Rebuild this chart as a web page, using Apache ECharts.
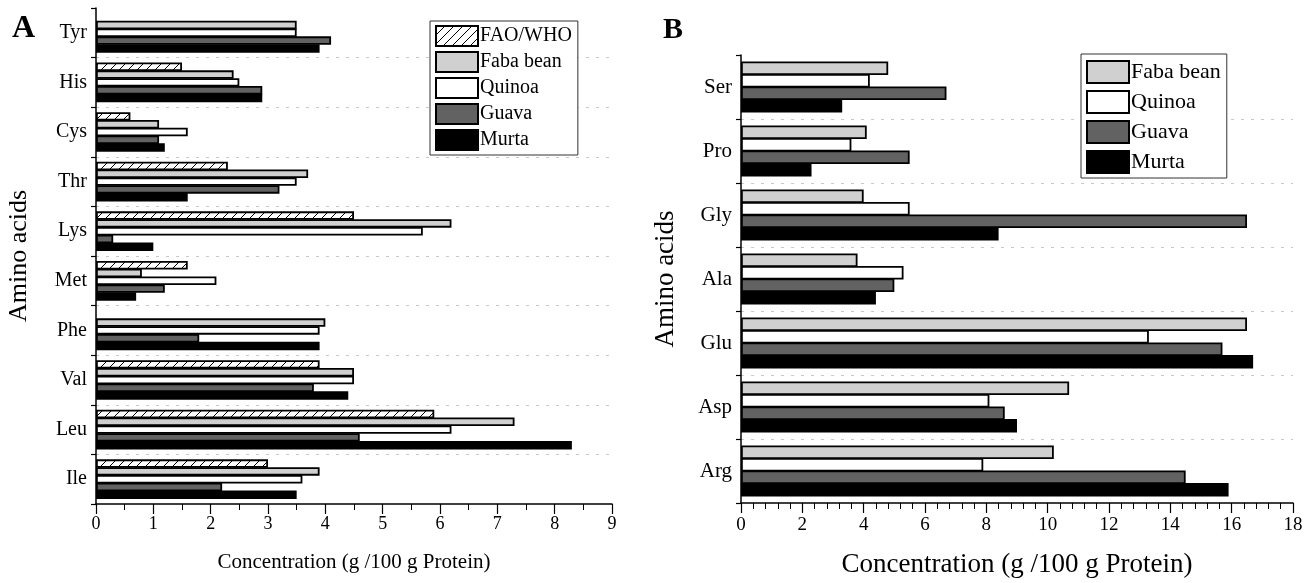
<!DOCTYPE html>
<html>
<head>
<meta charset="utf-8">
<script src="https://cdn.jsdelivr.net/npm/echarts@6/dist/echarts.min.js"></script>
<style>
  html, body { margin: 0; padding: 0; background: #fff; }
  #main { width: 1315px; height: 583px; }
</style>
</head>
<body>
<div id="main"></div>
<script>
// panel A: essential amino acids
const catsA = ['Tyr', 'His', 'Cys', 'Thr', 'Lys', 'Met', 'Phe', 'Val', 'Leu', 'Ile'];
const faoA = [null, 1.5, 0.6, 2.3, 4.5, 1.6, null, 3.9, 5.9, 3.0];
const fabaA = [3.5, 2.4, 1.1, 3.7, 6.2, 0.8, 4.0, 4.5, 7.3, 3.9];
const quinoaA = [3.5, 2.5, 1.6, 3.5, 5.7, 2.1, 3.9, 4.5, 6.2, 3.6];
const guavaA = [4.1, 2.9, 1.1, 3.2, 0.3, 1.2, 1.8, 3.8, 4.6, 2.2];
const murtaA = [3.9, 2.9, 1.2, 1.6, 1.0, 0.7, 3.9, 4.4, 8.3, 3.5];
const ticksA = [0, 1, 2, 3, 4, 5, 6, 7, 8, 9];

// panel B: non-essential amino acids
const catsB = ['Ser', 'Pro', 'Gly', 'Ala', 'Glu', 'Asp', 'Arg'];
const fabaB = [4.8, 4.1, 4.0, 3.8, 16.5, 10.7, 10.2];
const quinoaB = [4.2, 3.6, 5.5, 5.3, 13.3, 8.1, 7.9];
const guavaB = [6.7, 5.5, 16.5, 5.0, 15.7, 8.6, 14.5];
const murtaB = [3.3, 2.3, 8.4, 4.4, 16.7, 9.0, 15.9];
const ticksB = [0, 2, 4, 6, 8, 10, 12, 14, 16, 18];

const FONT = '"Liberation Serif", "DejaVu Serif", serif';

// diagonal hatch for FAO/WHO
function hatch() {
  const c = document.createElement('canvas');
  c.width = 9; c.height = 9;
  const g = c.getContext('2d');
  g.fillStyle = '#fff';
  g.fillRect(0, 0, 9, 9);
  g.strokeStyle = '#000';
  g.lineWidth = 1;
  g.beginPath();
  g.moveTo(-1, 10); g.lineTo(10, -1);
  g.moveTo(-1, 1); g.lineTo(1, -1);
  g.moveTo(8, 10); g.lineTo(10, 8);
  g.stroke();
  return { image: c, repeat: 'repeat' };
}

const fills = {
  'FAO/WHO': hatch(),
  'Faba bean': '#d0d0d0',
  'Quinoa': '#ffffff',
  'Guava': '#626262',
  'Murta': '#000000'
};

function bar(name, data, idx) {
  return {
    name: name,
    type: 'bar',
    xAxisIndex: idx,
    yAxisIndex: idx,
    data: data.map(v => v === null ? '-' : v),
    barGap: '-8%',
    barCategoryGap: '20%',
    itemStyle: { color: fills[name], borderColor: '#000', borderWidth: 1.8 },
    emphasis: { disabled: true }
  };
}

function xAxisCfg(idx, max, interval, split, fs, nfs, gap, margin) {
  return {
    gridIndex: idx,
    type: 'value',
    min: 0,
    max: max,
    interval: interval,
    name: 'Concentration (g /100 g Protein)',
    nameLocation: 'middle',
    nameGap: gap,
    nameTextStyle: { fontFamily: FONT, fontSize: nfs, color: '#000' },
    axisLine: { show: true, lineStyle: { color: '#000', width: 1.5 } },
    axisTick: { show: true, length: 10, lineStyle: { color: '#000', width: 1.2 } },
    minorTick: { show: true, splitNumber: split, length: 6, lineStyle: { color: '#000', width: 1 } },
    axisLabel: { fontFamily: FONT, fontSize: fs, color: '#000', margin: margin },
    splitLine: { show: false }
  };
}

function yAxisCfg(idx, cats, fs, nfs, gap) {
  return {
    gridIndex: idx,
    type: 'category',
    data: cats,
    inverse: true,
    name: 'Amino acids',
    nameLocation: 'middle',
    nameGap: gap,
    nameTextStyle: { fontFamily: FONT, fontSize: nfs, color: '#000' },
    axisLine: { show: true, lineStyle: { color: '#000', width: 1.5 } },
    axisTick: { show: true, length: 5, lineStyle: { color: '#000', width: 1.2 } },
    axisLabel: { fontFamily: FONT, fontSize: fs, color: '#000', margin: 9 },
    splitLine: {
      show: true,
      showMinLine: false,
      showMaxLine: false,
      lineStyle: { color: '#c8c8c8', type: [3, 7], width: 1 }
    }
  };
}

const chart = echarts.init(document.getElementById('main'), null, { renderer: 'canvas' });

chart.setOption({
  backgroundColor: '#fff',
  animation: false,
  grid: [
    { left: 96, top: 8, width: 516, height: 496 },
    { left: 741, top: 55, width: 552, height: 449 }
  ],
  xAxis: [
    xAxisCfg(0, ticksA[ticksA.length - 1], ticksA[1] - ticksA[0], 2, 18, 21, 48, 11),
    xAxisCfg(1, ticksB[ticksB.length - 1], ticksB[1] - ticksB[0], 5, 19, 27, 48, 13)
  ],
  yAxis: [
    yAxisCfg(0, catsA, 20, 26, 64),
    yAxisCfg(1, catsB, 21, 27, 62)
  ],
  legend: [
    {
      data: ['FAO/WHO', 'Faba bean', 'Quinoa', 'Guava', 'Murta'],
      orient: 'vertical',
      left: 430,
      top: 21,
      itemWidth: 42,
      itemHeight: 20,
      itemGap: 4,
      padding: [4, 6, 4, 5],
      borderColor: '#333',
      borderWidth: 1,
      backgroundColor: '#fff',
      icon: 'rect',
      selectedMode: false,
      textStyle: { fontFamily: FONT, fontSize: 20, color: '#000', padding: [0, 0, 0, -3] }
    },
    {
      data: ['Faba bean', 'Quinoa', 'Guava', 'Murta'],
      orient: 'vertical',
      left: 1081,
      top: 54,
      itemWidth: 42,
      itemHeight: 22,
      itemGap: 6,
      padding: [6, 6, 4, 5],
      borderColor: '#333',
      borderWidth: 1,
      backgroundColor: '#fff',
      icon: 'rect',
      selectedMode: false,
      textStyle: { fontFamily: FONT, fontSize: 22, color: '#000', padding: [0, 0, 0, -3] }
    }
  ],
  graphic: [
    { type: 'text', left: 12, top: 13, style: { text: 'A', fontFamily: FONT, fontSize: 32, fontWeight: 'bold', fill: '#000' } },
    { type: 'text', left: 663, top: 15, style: { text: 'B', fontFamily: FONT, fontSize: 30, fontWeight: 'bold', fill: '#000' } }
  ],
  series: [
    bar('FAO/WHO', faoA, 0),
    bar('Faba bean', fabaA, 0),
    bar('Quinoa', quinoaA, 0),
    bar('Guava', guavaA, 0),
    bar('Murta', murtaA, 0),
    bar('Faba bean', fabaB, 1),
    bar('Quinoa', quinoaB, 1),
    bar('Guava', guavaB, 1),
    bar('Murta', murtaB, 1)
  ]
});
</script>
</body>
</html>
